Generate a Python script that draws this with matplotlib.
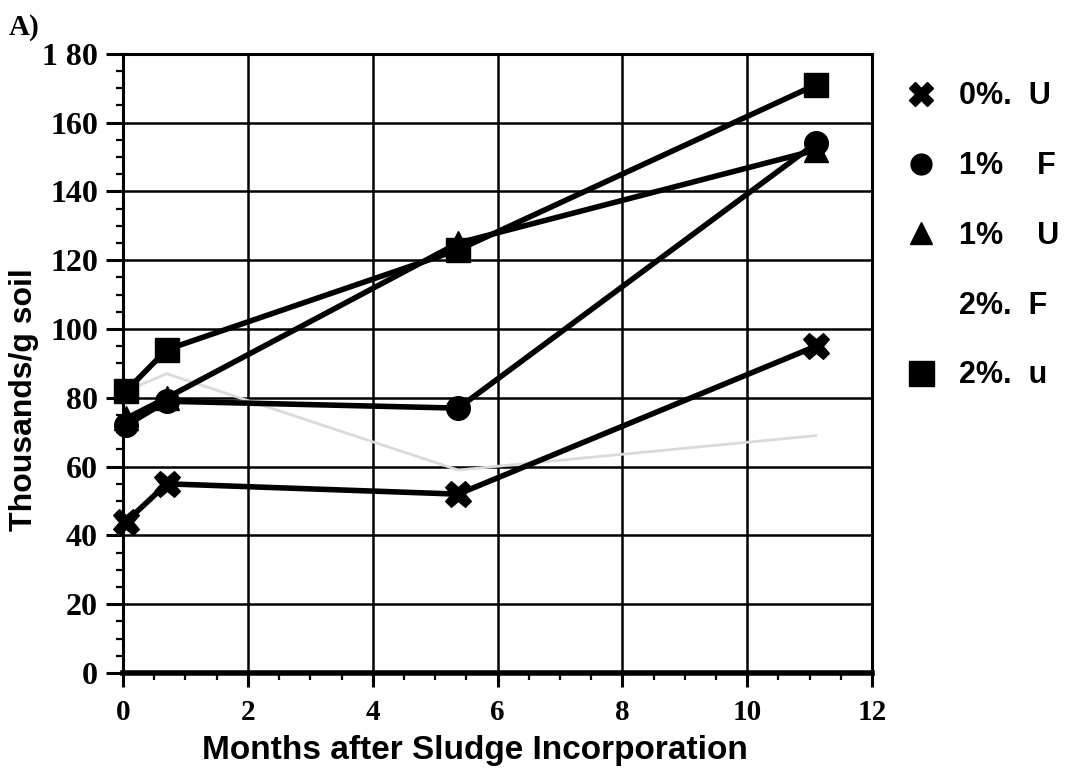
import matplotlib
matplotlib.use("Agg")
import matplotlib.pyplot as plt
from matplotlib.lines import Line2D
from matplotlib.ticker import MultipleLocator

months = [0.05, 0.7, 5.37, 11.1]
u0 = [44, 55, 52, 95]
f1 = [72, 79, 77, 154]
u1 = [74, 80, 125, 152]
f2 = [82, 87, 59, 69]
u2 = [82, 94, 123, 171]

xticks = [0, 2, 4, 6, 8, 10, 12]
yticks = [0, 20, 40, 60, 80, 100, 120, 140, 160, 180]
ytick_labels = ["0", "20", "40", "60", "80", "100", "120", "140", "160", "1 80"]
legend_labels = ["0%.  U", "1%    F", "1%    U", "2%.  F", "2%.  u"]

fig = plt.figure(figsize=(10.7, 7.75), dpi=100)
ax = fig.add_axes([0.115, 0.1316, 0.700, 0.799])

ax.set_xlim(0, 12)
ax.set_ylim(0, 180)
ax.set_xticks(xticks)
ax.set_yticks(yticks)
ax.set_yticklabels(ytick_labels)
ax.xaxis.set_minor_locator(MultipleLocator(0.5))
ax.yaxis.set_minor_locator(MultipleLocator(5))
ax.grid(True, which="major", color="black", linewidth=1.8)
ax.set_axisbelow(True)

for lab in ax.get_xticklabels():
    lab.set_fontfamily("Liberation Serif")
    lab.set_fontweight("bold")
    lab.set_fontsize(21)
for lab in ax.get_yticklabels():
    lab.set_fontfamily("Liberation Serif")
    lab.set_fontweight("bold")
    lab.set_fontsize(23)
ax.tick_params(axis="y", which="major", length=12, width=2.2, direction="out", pad=6)
ax.tick_params(axis="x", which="major", length=10, width=2.2, direction="out", pad=9)
ax.tick_params(axis="both", which="minor", length=5, width=1.6, direction="out")

for s in ["left", "right", "top"]:
    ax.spines[s].set_linewidth(2.2)
ax.spines["bottom"].set_linewidth(4)

lw = 4
ax.plot(months, f2, color="#dadada", lw=2, zorder=3, clip_on=False)
ax.plot(months, u0, color="black", lw=lw, marker="X", ms=19, mec="black", mew=0.8, zorder=4, clip_on=False)
ax.plot(months, f1, color="black", lw=lw, marker="o", ms=17, zorder=4, clip_on=False)
ax.plot(months, u1, color="black", lw=lw, marker="^", ms=17, zorder=4, clip_on=False)
ax.plot(months, u2, color="black", lw=lw, marker="s", ms=17, zorder=5, clip_on=False)

ax.set_xlabel("Months after Sludge Incorporation", family="Liberation Sans",
              weight="bold", fontsize=24)
ax.xaxis.set_label_coords(0.47, -0.1)
ax.set_ylabel("Thousands/g soil", family="Liberation Sans",
              weight="bold", fontsize=23)
ax.yaxis.set_label_coords(-0.112, 0.441)

handles = [
    Line2D([], [], ls="none", marker="X", ms=17, color="black"),
    Line2D([], [], ls="none", marker="o", ms=15, color="black"),
    Line2D([], [], ls="none", marker="^", ms=16, color="black"),
    Line2D([], [], ls="none", marker="o", ms=14, color="white", alpha=0),
    Line2D([], [], ls="none", marker="s", ms=18, color="black"),
]
leg = ax.legend(handles, legend_labels, loc="upper left", bbox_to_anchor=(1.028, 0.975),
                frameon=False, handlelength=1.0, handletextpad=0.75, labelspacing=1.3,
                prop={"family": "Liberation Sans", "weight": "bold", "size": 22},
                borderaxespad=0)

fig.text(0.008, 0.955, "A)", family="Liberation Serif", weight="bold", fontsize=21)

fig.savefig("out.png", dpi=100)
